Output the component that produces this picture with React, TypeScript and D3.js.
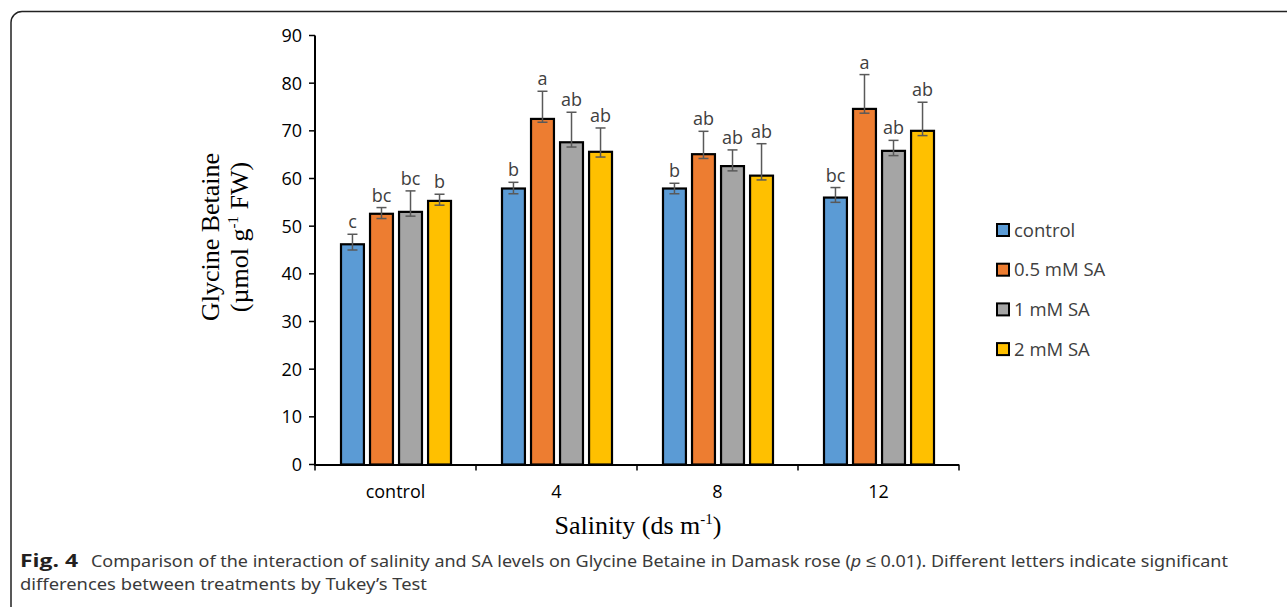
import React from "react";
import * as d3 from "d3";

const categories = ["control", "4", "8", "12"];
const series = ["control", "0.5 mM SA", "1 mM SA", "2 mM SA"];
const colors = ["#5b9bd5", "#ed7d31", "#a5a5a5", "#ffc000"];
// values[category][series]
const values = [
  [46.2, 52.6, 53.0, 55.3],
  [57.9, 72.5, 67.6, 65.6],
  [57.9, 65.1, 62.6, 60.6],
  [56.0, 74.6, 65.8, 70.0],
];
const errUp = [
  [2.1, 1.3, 4.4, 1.4],
  [1.3, 5.8, 6.3, 5.0],
  [1.1, 4.8, 3.4, 6.7],
  [2.1, 7.2, 2.2, 6.0],
];
const errDown = [
  [1.2, 1.0, 0.9, 0.9],
  [1.1, 0.7, 1.0, 1.1],
  [1.1, 0.9, 1.0, 0.9],
  [1.0, 0.9, 1.0, 1.0],
];
const letters = [
  ["c", "bc", "bc", "b"],
  ["b", "a", "ab", "ab"],
  ["b", "ab", "ab", "ab"],
  ["bc", "a", "ab", "ab"],
];
const yTicks = [0, 10, 20, 30, 40, 50, 60, 70, 80, 90];

export default function App() {
  const W = 1287, H = 607;
  const left = 315, right = 959, top = 35.5, bottom = 464.5;
  const y = d3.scaleLinear().domain([0, 90]).range([bottom, top]);
  const x0 = d3.scaleBand().domain(categories).range([left, right]).padding(0);
  const x1 = d3.scaleBand().domain(series).range([26, 136]).paddingInner(0.21).paddingOuter(0);
  const boundaries = [0, 1, 2, 3, 4].map((i) => left + i * x0.step());
  const tickFont = "'Open Sans', 'Noto Sans', sans-serif";
  const serif = "'Liberation Serif', 'DejaVu Serif', serif";

  return (
    <svg width={W} height={H} style={{ position: "absolute", left: 0, top: 0, background: "#fff" }}>
      <rect x={11} y={11.5} width={1400} height={700} rx={11} fill="none" stroke="#222" strokeWidth={1.5} />

      {/* y axis */}
      <line x1={left} x2={left} y1={top} y2={bottom + 1} stroke="#000" strokeWidth={2} />
      {yTicks.map((t) => (
        <g key={t}>
          <line x1={left - 6} x2={left} y1={y(t)} y2={y(t)} stroke="#000" strokeWidth={1.5} />
          <text x={left - 13} y={y(t) + 6.5} textAnchor="end" fontFamily={tickFont} fontSize={18} fill="#000">
            {t}
          </text>
        </g>
      ))}

      {/* bars */}
      {categories.map((c, ci) => (
        <g key={c} transform={`translate(${x0(c)},0)`}>
          {series.map((s, si) => {
            const v = values[ci][si];
            const bx = x1(s)!;
            const bw = x1.bandwidth();
            const cx = bx + bw / 2;
            const yt = y(v + errUp[ci][si]);
            const yb = y(v - errDown[ci][si]);
            return (
              <g key={s}>
                <rect x={bx} y={y(v)} width={bw} height={bottom - y(v)} fill={colors[si]} stroke="#000" strokeWidth={2.2} />
                <line x1={cx} x2={cx} y1={yt} y2={yb} stroke="#595959" strokeWidth={1.5} />
                <line x1={cx - 5} x2={cx + 5} y1={yt} y2={yt} stroke="#595959" strokeWidth={1.5} />
                <line x1={cx - 5} x2={cx + 5} y1={yb} y2={yb} stroke="#595959" strokeWidth={1.5} />
                <text x={cx} y={yt - 6} textAnchor="middle" fontFamily={tickFont} fontSize={18} fill="#404040">
                  {letters[ci][si]}
                </text>
              </g>
            );
          })}
        </g>
      ))}

      {/* x axis */}
      <line x1={left - 1} x2={right} y1={bottom + 0.5} y2={bottom + 0.5} stroke="#000" strokeWidth={2} />
      {boundaries.map((bx, i) => (
        <line key={i} x1={bx} x2={bx} y1={bottom} y2={bottom + 6} stroke="#000" strokeWidth={1.5} />
      ))}
      {categories.map((c) => (
        <text key={c} x={x0(c)! + x0.bandwidth() / 2} y={498} textAnchor="middle" fontFamily={tickFont} fontSize={18} fill="#000">
          {c}
        </text>
      ))}

      {/* axis titles */}
      <g transform="translate(219,237) rotate(-90)">
        <text x={0} y={0} textAnchor="middle" fontFamily={serif} fontSize={26} fill="#000">Glycine Betaine</text>
        <text x={0} y={29} textAnchor="middle" fontFamily={serif} fontSize={26} fill="#000">
          (µmol g<tspan fontSize={15} dy={-10}>-1</tspan><tspan dy={10}> FW)</tspan>
        </text>
      </g>
      <text x={638} y={534} textAnchor="middle" fontFamily={serif} fontSize={26} fill="#000">
        Salinity (ds m<tspan fontSize={15} dy={-10}>-1</tspan><tspan dy={10}>)</tspan>
      </text>

      {/* legend */}
      {series.map((s, i) => (
        <g key={s} transform={`translate(997,${230 + i * 39.7})`}>
          <rect x={0} y={-6} width={12} height={12} fill={colors[i]} stroke="#000" strokeWidth={2} />
          <text x={17} y={6.5} fontFamily={tickFont} fontSize={18.5} fill="#404040">{s}</text>
        </g>
      ))}

      {/* caption */}
      <text x={20} y={567} fontFamily="'Open Sans', sans-serif" fontSize={18} fontWeight="bold" fill="#231f20" textLength={58} lengthAdjust="spacingAndGlyphs">Fig. 4</text>
      <text x={91} y={567} fontFamily="'Noto Sans', sans-serif" fontSize={17} fill="#3a3a3a" textLength={1137} lengthAdjust="spacingAndGlyphs">
        Comparison of the interaction of salinity and SA levels on Glycine Betaine in Damask rose (<tspan fontStyle="italic">p</tspan> ≤ 0.01). Different letters indicate significant
      </text>
      <text x={20} y={590} fontFamily="'Noto Sans', sans-serif" fontSize={17} fill="#3a3a3a" textLength={407} lengthAdjust="spacingAndGlyphs">
        differences between treatments by Tukey’s Test
      </text>
    </svg>
  );
}
